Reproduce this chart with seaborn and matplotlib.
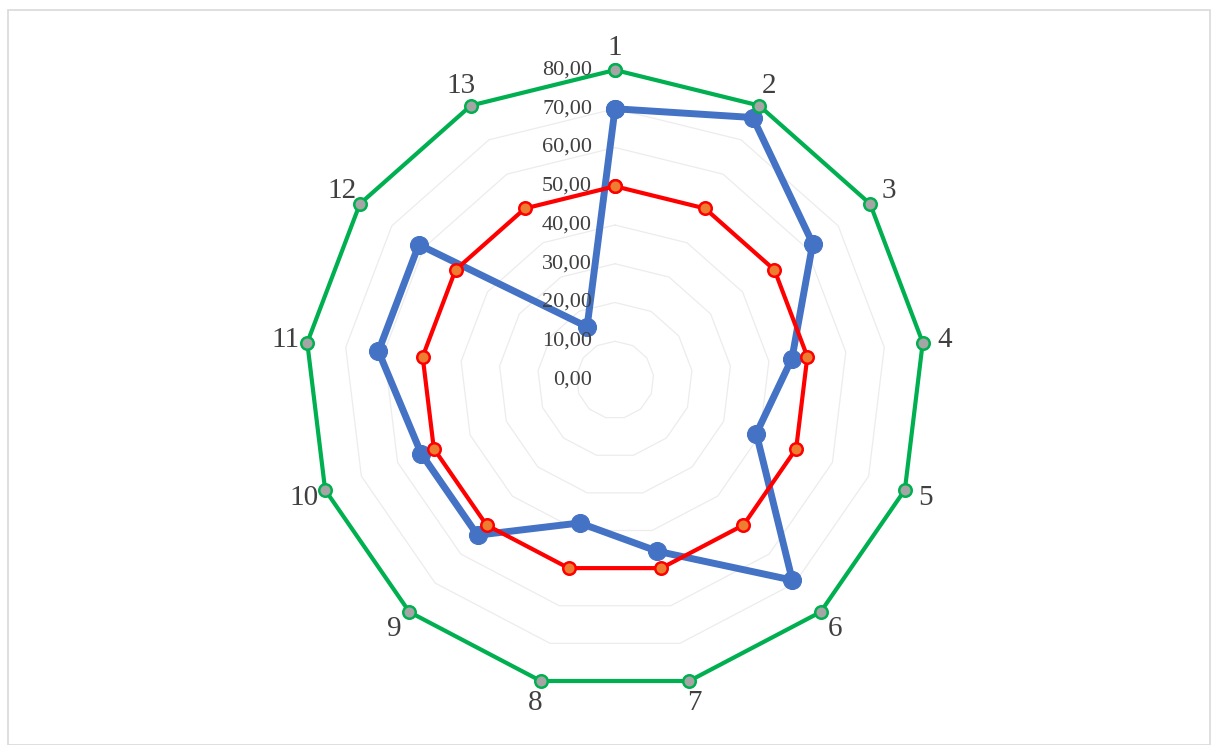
import numpy as np
import pandas as pd
import matplotlib
matplotlib.use("Agg")
import matplotlib.pyplot as plt
import matplotlib.transforms as mtrans
from matplotlib.patches import Rectangle
import seaborn as sns

# ---- data ----
categories = ["1", "2", "3", "4", "5", "6", "7", "8", "9", "10", "11", "12", "13"]
blue_values = [70, 76.5, 62, 46, 39, 69, 45.5, 38, 53.5, 53.5, 61.5, 61.5, 15.5]
red_values = [50] * 13
green_values = [80] * 13
r_ticks = [0, 10, 20, 30, 40, 50, 60, 70, 80]
r_tick_labels = ["0,00", "10,00", "20,00", "30,00", "40,00", "50,00", "60,00", "70,00", "80,00"]

sns.set_theme(style="white")
plt.rcParams["font.family"] = ["Liberation Serif", "DejaVu Serif"]

fig = plt.figure(figsize=(12.11, 7.45), dpi=100)
fig.patch.set_facecolor("white")
fig.patches.append(Rectangle((8 / 1211, 0), 1 - 8 / 1211 - 0.0005, 1 - 10 / 745,
                             transform=fig.transFigure, fill=False,
                             edgecolor="#d9d9d9", linewidth=1.2))

ax = fig.add_axes([305 / 1211, 55 / 745, 620 / 1211, 620 / 745], projection="polar")
ax.set_theta_zero_location("N")
ax.set_theta_direction(-1)
ax.set_ylim(0, 80)
ax.grid(False)
ax.spines["polar"].set_visible(False)
ax.set_yticks([])
ax.set_facecolor("none")

n = len(categories)
theta = np.arange(n) * 2 * np.pi / n
theta_closed = np.append(theta, 2 * np.pi)

# polygon gridlines (very faint)
for rv in r_ticks[1:]:
    ax.plot(theta_closed, [rv] * (n + 1), color="#ececec", lw=0.9, zorder=1)

def closed(vals):
    return pd.DataFrame({"order": np.arange(n + 1), "theta": theta_closed,
                         "value": list(vals) + [vals[0]]})

sns.lineplot(data=closed(blue_values), x="theta", y="value", sort=False,
             estimator=None, ax=ax,
             color="#4472C4", lw=5, marker="o", markersize=13,
             markerfacecolor="#4472C4", markeredgecolor="#4472C4", zorder=3)
sns.lineplot(data=closed(red_values), x="theta", y="value", sort=False,
             estimator=None, ax=ax,
             color="#FF0000", lw=3, marker="o", markersize=9,
             markerfacecolor="#ED7D31", markeredgecolor="#FF0000",
             markeredgewidth=1.8, zorder=4)
sns.lineplot(data=closed(green_values), x="theta", y="value", sort=False,
             estimator=None, ax=ax,
             color="#00B050", lw=3, marker="o", markersize=9,
             markerfacecolor="#A5A5A5", markeredgecolor="#00B050",
             markeredgewidth=1.8, zorder=5)
for line in ax.lines:
    line.set_clip_on(False)

ax.set_xlabel("")
ax.set_ylabel("")
ax.set_xlim(0, 2 * np.pi)
ax.set_xticks(theta)
ax.set_xticklabels(categories, fontsize=21, color="#404040")
ax.tick_params(axis="x", pad=3)

# radial labels
off = mtrans.offset_copy(ax.transData, fig=fig, x=-23, y=0, units="dots")
for rv, lab in zip(r_ticks, r_tick_labels):
    ax.text(0, rv, lab, transform=off, ha="right", va="center",
            fontsize=16, color="#404040", zorder=6)

fig.savefig("out.png", dpi=100, facecolor="white")
